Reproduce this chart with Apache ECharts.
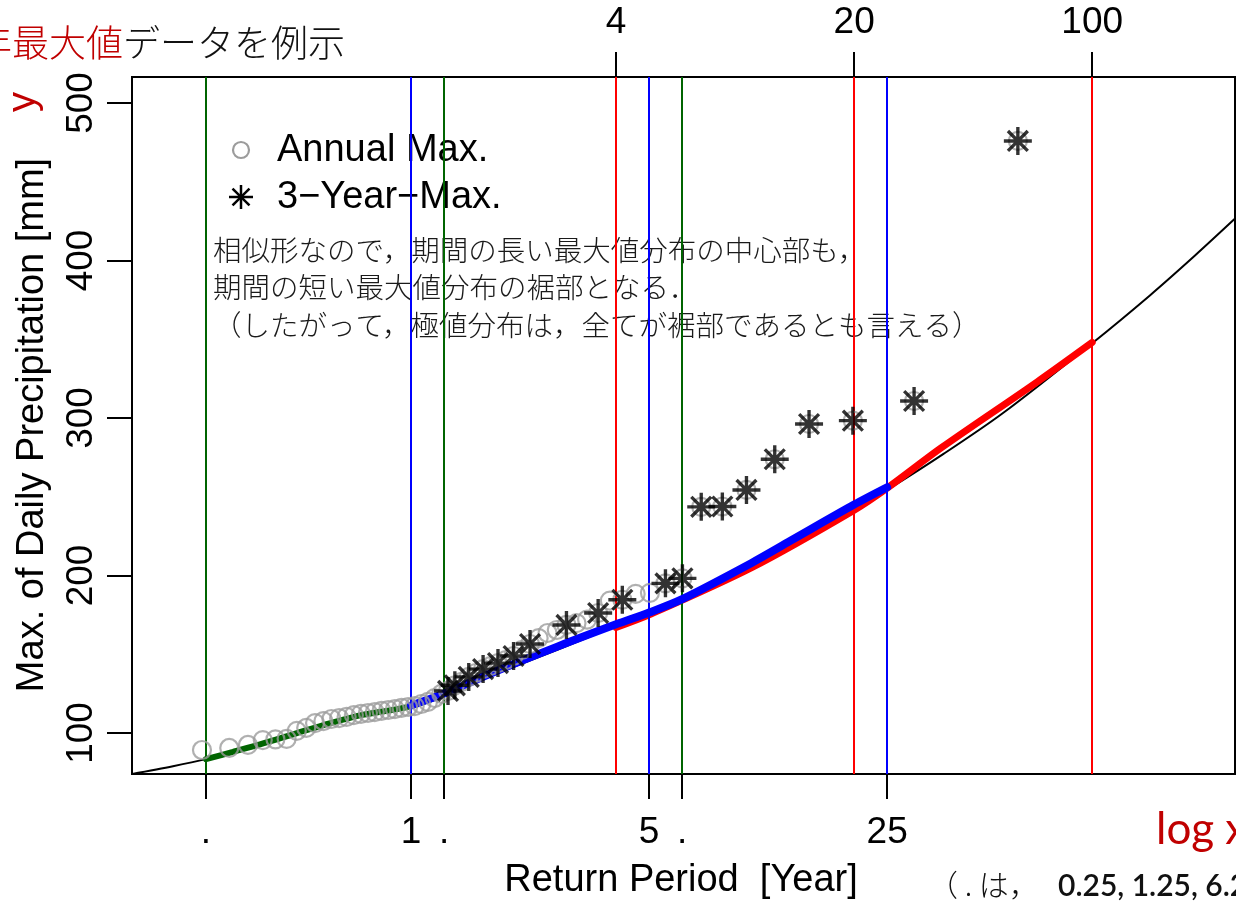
<!DOCTYPE html>
<html>
<head>
<meta charset="utf-8">
<script src="https://cdn.jsdelivr.net/npm/echarts@6.0.0/dist/echarts.min.js"></script>
<style>
  html, body { margin: 0; padding: 0; background: #fff; overflow: hidden; }
  #chart { width: 1236px; height: 901px; }
</style>
</head>
<body>
<div id="chart"></div>
<script>
// Annual maximum daily precipitation, plotted at its return period [year]
const annualT = [0.2433, 0.2926, 0.3320, 0.3670, 0.3998, 0.4312, 0.4619, 0.4923, 0.5226, 0.5530,
  0.5838, 0.6150, 0.6469, 0.6794, 0.7129, 0.7473, 0.7827, 0.8193, 0.8573, 0.8968,
  0.9378, 0.9806, 1.0252, 1.0720, 1.1211, 1.1727, 1.2269, 1.2842, 1.3449, 1.4091,
  1.4773, 1.5500, 1.6277, 1.7109, 1.8001, 1.8963, 2.0002, 2.1129, 2.2355, 2.3697,
  2.5170, 2.6794, 2.8599, 3.0611, 3.2871, 3.5432, 3.8355, 4.1724, 4.5652, 5.0289,
  5.5850, 6.2641, 7.1134, 8.2047, 9.6581, 11.693, 14.745, 19.829, 29.994, 60.496];
const annualMax = [89.2, 90.5, 92.4, 95.5, 96.0, 96.3, 101.3, 103.2, 106.3, 107.6,
  108.9, 109.5, 110.2, 111.4, 112.1, 112.7, 113.3, 114.0, 114.6, 115.2,
  115.9, 116.5, 117.1, 118.4, 119.7, 122.2, 124.8, 126.7, 130.3, 132.4,
  135.6, 138.1, 140.6, 142.5, 144.4, 146.3, 148.9, 152.7, 156.5, 160.3,
  163.5, 165.4, 168.6, 169.8, 172.0, 176.2, 184.0, 184.6, 188.3, 189.0,
  195.0, 198.2, 243.6, 243.8, 254.3, 273.8, 296.2, 298.3, 310.8, 475.9];

// 3-year maxima (subset of the annual values)
const threeYearT = [1.2842, 1.3449, 1.4773, 1.6277, 1.8001, 2.0002, 2.2355, 2.8599, 3.5432, 4.1724,
  5.5850, 6.2641, 7.1134, 8.2047, 9.6581, 11.693, 14.745, 19.829, 29.994, 60.496];
const threeYearMax = [126.7, 130.3, 135.6, 140.6, 144.4, 148.9, 156.5, 168.6, 176.2, 184.6,
  195.0, 198.2, 243.6, 243.8, 254.3, 273.8, 296.2, 298.3, 310.8, 475.9];

// Fitted quantile curve over the whole range
const curveT = [0.15, 0.2, 0.25, 0.3, 0.37, 0.46, 0.58, 0.72, 0.9, 1, 1.25, 1.65, 2.7, 4, 5,
  7.4, 12.2, 20, 25, 36.6, 54.6, 100, 148, 200, 270];
const curveValue = [73.8, 78.9, 83.4, 88.0, 93.5, 99.8, 106.3, 111.5, 115.0, 117.0, 124.5, 135.0, 153.0, 168.0, 176.5,
  194.0, 218.0, 242.0, 254.3, 277.2, 303.0, 347.5, 378.0, 403.0, 429.0];

// Block-maximum fits over their own ranges
const quarterT = [0.25, 0.3, 0.37, 0.46, 0.58, 0.72, 0.9, 1, 1.25];
const quarterValue = [83.4, 88.0, 93.5, 99.8, 106.3, 111.5, 115.0, 117.0, 124.5];
const annualFitT = [1, 1.25, 1.7, 2.7, 4, 5, 6.25, 10, 13, 20, 25];
const annualFitValue = [117.5, 125.0, 137.5, 155.0, 169.0, 176.5, 185.0, 208.0, 222.0, 245.0, 256.0];
const fourYearT = [4, 5, 10, 20, 25, 36, 69, 100];
const fourYearValue = [167.0, 175.0, 205.0, 241.5, 255.5, 281.0, 323.0, 348.0];

// Reference return periods (vertical lines)
const quarterPeriods = [0.25, 1.25, 6.25];
const annualPeriods = [1, 5, 25];
const fourYearPeriods = [4, 20, 100];

// Tick marks and labels
const bottomTickValues = [0.25, 1, 1.25, 5, 6.25, 25];
const bottomTickLabels = ['.', '1', '.', '5', '.', '25'];
const topTickValues = [4, 20, 100];
const topTickLabels = ['4', '20', '100'];
const yTickValues = [100, 200, 300, 400, 500];

const GREEN = '#006400', BLUE = '#0000FF', RED = '#FF0000', DARKRED = '#C00000';
const GRAY = '#9c9c9c';
const SANS = 'Liberation Sans, Arial, sans-serif';
const JP = '"Noto Sans CJK JP", sans-serif';

// Asterisk (+ and x) built from four filled bars
const STAR = 'path://M44 0L56 0L56 100L44 100Z M0 44L100 44L100 56L0 56Z ' +
  'M18.84 10.36L89.64 81.16L81.16 89.64L10.36 18.84Z M89.64 18.84L18.84 89.64L10.36 81.16L81.16 10.36Z';

function pairs(xs, ys) { return xs.map((x, i) => [x, ys[i]]); }
function labelFor(values, labels) {
  return v => {
    const i = values.findIndex(t => Math.abs(t - v) / t < 1e-6);
    return i >= 0 ? labels[i] : '';
  };
}

// Legend asterisk as four stroked segments
function legendStar(cx, cy, r, w) {
  const d = r / Math.SQRT2;
  const segs = [[-r, 0, r, 0], [0, -r, 0, r], [-d, -d, d, d], [-d, d, d, -d]];
  return segs.map(s => ({
    type: 'line',
    shape: { x1: cx + s[0], y1: cy + s[1], x2: cx + s[2], y2: cy + s[3] },
    style: { stroke: '#000', lineWidth: w }
  }));
}

const xMin = 0.15161, xMax = 262.6;
const yMin = 73.97, yMax = 516.5;

const periodLines = []
  .concat(quarterPeriods.map(t => ({ xAxis: t, lineStyle: { color: GREEN } })))
  .concat(annualPeriods.map(t => ({ xAxis: t, lineStyle: { color: BLUE } })))
  .concat(fourYearPeriods.map(t => ({ xAxis: t, lineStyle: { color: RED } })));

const chart = echarts.init(document.getElementById('chart'), null, { renderer: 'canvas' });

chart.setOption({
  animation: false,
  backgroundColor: '#fff',
  grid: {
    left: 132, top: 77, right: 1, bottom: 127,
    show: true, borderColor: '#000', borderWidth: 2, backgroundColor: 'transparent'
  },
  xAxis: [
    {
      type: 'log', min: xMin, max: xMax, position: 'bottom',
      axisLine: { show: false }, splitLine: { show: false }, minorTick: { show: false },
      axisTick: { show: true, customValues: bottomTickValues, length: 25, lineStyle: { color: '#000', width: 2 } },
      axisLabel: {
        customValues: bottomTickValues, formatter: labelFor(bottomTickValues, bottomTickLabels),
        margin: 40, fontSize: 37, color: '#000', fontFamily: SANS
      }
    },
    {
      type: 'log', min: xMin, max: xMax, position: 'top',
      axisLine: { show: false }, splitLine: { show: false }, minorTick: { show: false },
      axisTick: { show: true, customValues: topTickValues, length: 25, lineStyle: { color: '#000', width: 2 } },
      axisLabel: {
        customValues: topTickValues, formatter: labelFor(topTickValues, topTickLabels),
        margin: 36, fontSize: 37, color: '#000', fontFamily: SANS
      }
    }
  ],
  yAxis: {
    type: 'value', min: yMin, max: yMax,
    axisLine: { show: false }, splitLine: { show: false },
    axisTick: { show: true, customValues: yTickValues, length: 25, lineStyle: { color: '#000', width: 2 } },
    axisLabel: {
      customValues: yTickValues, rotate: 90, margin: 32,
      fontSize: 37, color: '#000', fontFamily: SANS
    }
  },
  series: [
    {
      name: 'periods', type: 'line', data: [], z: 1,
      markLine: {
        silent: true, symbol: 'none', label: { show: false },
        lineStyle: { type: 'solid', width: 2 },
        data: periodLines
      }
    },
    {
      name: 'fit', type: 'line', data: pairs(curveT, curveValue), z: 2,
      showSymbol: false, smooth: 0.3,
      lineStyle: { color: '#000', width: 2 }
    },
    {
      name: '4-year', type: 'line', data: pairs(fourYearT, fourYearValue), z: 3,
      showSymbol: false, smooth: 0.3,
      lineStyle: { color: RED, width: 7, cap: 'round' }
    },
    {
      name: 'quarter', type: 'line', data: pairs(quarterT, quarterValue), z: 4,
      showSymbol: false, smooth: 0.3,
      lineStyle: { color: GREEN, width: 6, cap: 'round' }
    },
    {
      name: 'annual fit', type: 'line', data: pairs(annualFitT, annualFitValue), z: 5,
      showSymbol: false, smooth: 0.3,
      lineStyle: { color: BLUE, width: 8, cap: 'round' }
    },
    {
      name: 'Annual Max.', type: 'scatter', data: pairs(annualT, annualMax), z: 6,
      symbol: 'circle', symbolSize: 18,
      itemStyle: { color: 'rgba(0,0,0,0)', borderColor: GRAY, borderWidth: 2.2 }
    },
    {
      name: '3-Year-Max.', type: 'scatter', data: pairs(threeYearT, threeYearMax), z: 7,
      symbol: STAR, symbolSize: 28,
      itemStyle: { color: '#000' }
    }
  ],
  graphic: [
    // title
    {
      type: 'text', x: -25, y: 43,
      style: {
        text: '{r|年最大値}{k|データを例示}', textVerticalAlign: 'middle',
        rich: {
          r: { fontSize: 37, fontFamily: JP, fontWeight: 300, fill: DARKRED },
          k: { fontSize: 37, fontFamily: JP, fontWeight: 300, fill: '#111' }
        }
      }
    },
    // y axis names
    {
      type: 'text', x: 24, y: 102, rotation: Math.PI / 2,
      style: { text: 'y', fontSize: 40, fontFamily: SANS, fill: DARKRED, textAlign: 'center', textVerticalAlign: 'middle' }
    },
    {
      type: 'text', x: 33, y: 425, rotation: Math.PI / 2,
      style: { text: 'Max. of Daily Precipitation [mm]', fontSize: 38, fontFamily: SANS, fill: '#000', textAlign: 'center', textVerticalAlign: 'middle' }
    },
    // x axis names
    {
      type: 'text', x: 681, y: 881,
      style: { text: 'Return Period  [Year]', fontSize: 38, fontFamily: SANS, fill: '#000', textAlign: 'center', textVerticalAlign: 'middle' }
    },
    {
      type: 'text', x: 1156, y: 830,
      style: { text: 'log x', fontSize: 44, fontFamily: 'Lato, sans-serif', fill: DARKRED, textAlign: 'left', textVerticalAlign: 'middle' }
    },
    {
      type: 'text', x: 928, y: 885,
      style: { text: '（ . は，', fontSize: 30, fontFamily: JP, fontWeight: 300, fill: '#111', textAlign: 'left', textVerticalAlign: 'middle' }
    },
    {
      type: 'text', x: 1058, y: 886,
      style: { text: '0.25, 1.25, 6.25）', fontSize: 30, fontFamily: 'Lato, sans-serif', fontWeight: 600, fill: '#111', textAlign: 'left', textVerticalAlign: 'middle' }
    },
    // legend
    {
      type: 'circle', shape: { cx: 241, cy: 150, r: 8 },
      style: { fill: 'none', stroke: GRAY, lineWidth: 2.2 }
    },
    ...legendStar(241, 197, 12, 2.5),
    {
      type: 'text', x: 277, y: 151,
      style: { text: 'Annual Max.', fontSize: 38, fontFamily: SANS, fill: '#000', textVerticalAlign: 'middle' }
    },
    {
      type: 'text', x: 277, y: 198,
      style: { text: '3−Year−Max.', fontSize: 38, fontFamily: SANS, fill: '#000', textVerticalAlign: 'middle' }
    },
    // annotation
    {
      type: 'text', x: 213, y: 250,
      style: { text: '相似形なので，期間の長い最大値分布の中心部も，', fontSize: 28.5, fontFamily: JP, fontWeight: 300, fill: '#1a1a1a', textVerticalAlign: 'middle' }
    },
    {
      type: 'text', x: 213, y: 287,
      style: { text: '期間の短い最大値分布の裾部となる．', fontSize: 28.5, fontFamily: JP, fontWeight: 300, fill: '#1a1a1a', textVerticalAlign: 'middle' }
    },
    {
      type: 'text', x: 213, y: 325,
      style: { text: '（したがって，極値分布は，全てが裾部であるとも言える）', fontSize: 28.5, fontFamily: JP, fontWeight: 300, fill: '#1a1a1a', textVerticalAlign: 'middle' }
    }
  ]
});
</script>
</body>
</html>
